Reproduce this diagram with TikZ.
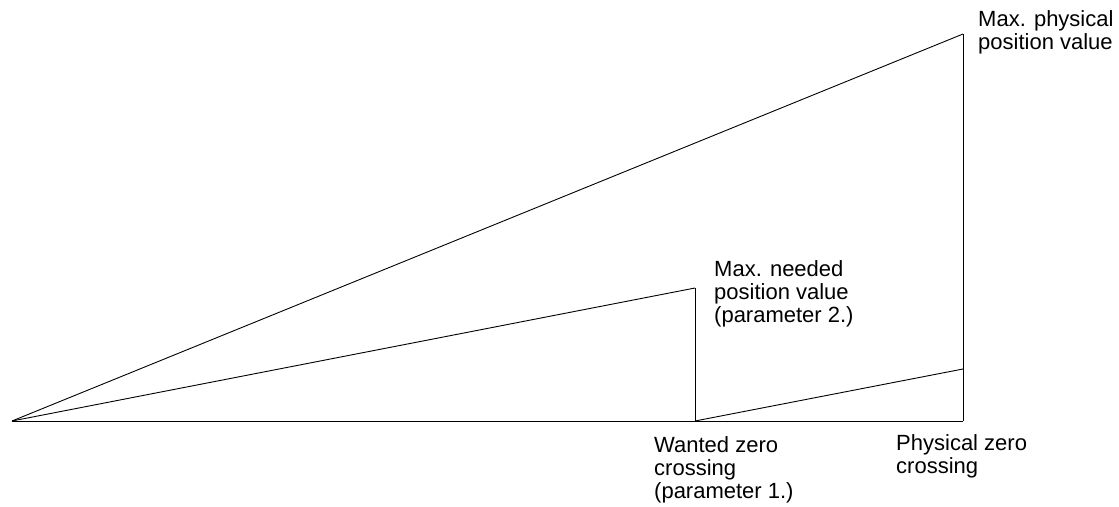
\documentclass[tikz,border=0pt]{standalone}
\usepackage{fontspec}
\setmainfont{Liberation Sans}
\begin{document}
\begin{tikzpicture}[x=1pt,y=-1pt,
  edge/.style={draw=black,line width=0.9pt},
  lbl/.style={anchor=base west,inner sep=0pt,align=left,font=\fontsize{22}{22.7}\selectfont}]
\useasboundingbox (0,0) rectangle (1119,506);
\coordinate (O) at (12,421);
\coordinate (A) at (695,421);
\coordinate (B) at (695,288);
\coordinate (C) at (963,421);
\coordinate (D) at (963,34);
\coordinate (E) at (963,369);
\draw[edge] (O) -- (C);
\draw[edge] (O) -- (D);
\draw[edge] (D) -- (C);
\draw[edge] (O) -- (B);
\draw[edge] (B) -- (A);
\draw[edge] (A) -- (E);
\node[lbl] (l1) at (978,49.5) {Max. physical\\position value};
\node[lbl] (l2) at (714,322) {Max. needed\\position value\\(parameter 2.)};
\node[lbl] (l3) at (654,498) {Wanted zero\\crossing\\(parameter 1.)};
\node[lbl] (l4) at (896,473) {Physical zero\\crossing};
\end{tikzpicture}
\end{document}
